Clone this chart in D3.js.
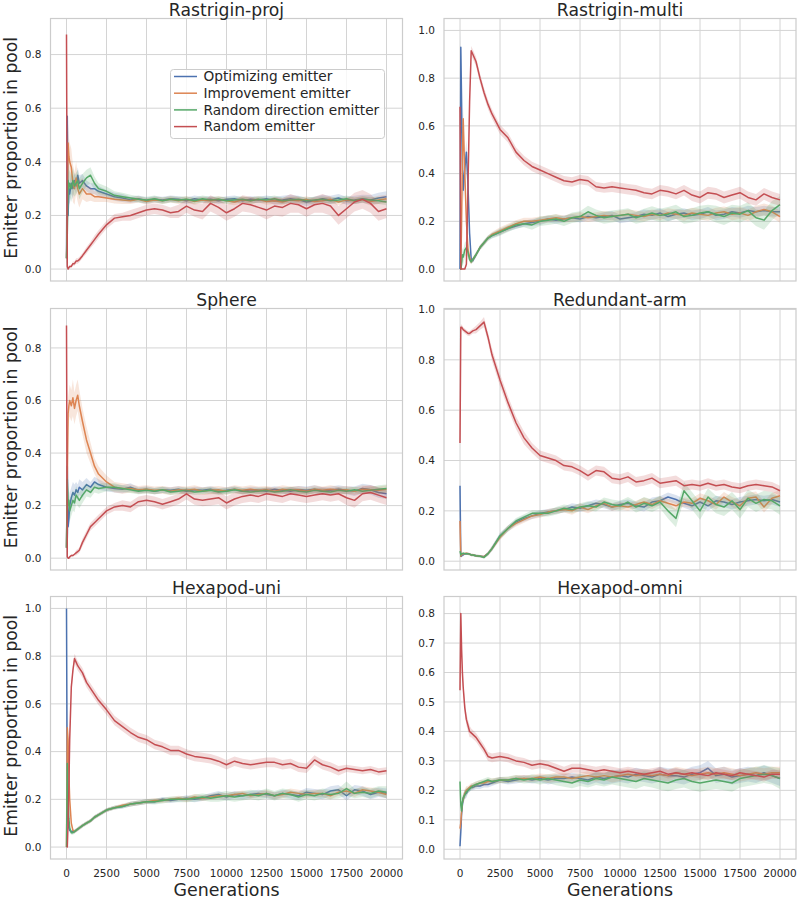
<!DOCTYPE html>
<html>
<head>
<meta charset="utf-8">
<script src="https://cdn.jsdelivr.net/npm/d3@7"></script>
<style>
  body { margin: 0; background: #fff; }
  text { font-family: "DejaVu Sans", sans-serif; fill: #262626; }
</style>
</head>
<body>
<div id="chart"></div>
<script>
// sampled generations (dense at the start, where the curves jump around)
const generations = [0, 50, 100, 150, 200, 300, 400, 500, 600, 700, 800, 1000, 1250, 1500, 1750, 2000,
  2500, 3000, 3500, 4000, 4500, 5000, 5500, 6000, 6500,
  7000, 7500, 8000, 8500, 9000, 9500, 10000, 10500, 11000,
  11500, 12000, 12500, 13000, 13500, 14000, 14500, 15000, 15500,
  16000, 16500, 17000, 17500, 18000, 18500, 19000, 19500, 20000];

const emitters = ["Optimizing emitter", "Improvement emitter", "Random direction emitter", "Random emitter"];
const colors = ["#4c72b0", "#dd8452", "#55a868", "#c44e52"];
const titles = ["Rastrigin-proj", "Rastrigin-multi", "Sphere", "Redundant-arm", "Hexapod-uni", "Hexapod-omni"];
const xTicks = [0, 2500, 5000, 7500, 10000, 12500, 15000, 17500, 20000];
const yTicks = [
  [0, 0.2, 0.4, 0.6, 0.8],
  [0, 0.2, 0.4, 0.6, 0.8, 1.0],
  [0, 0.2, 0.4, 0.6, 0.8],
  [0, 0.2, 0.4, 0.6, 0.8, 1.0],
  [0, 0.2, 0.4, 0.6, 0.8, 1.0],
  [0, 0.1, 0.2, 0.3, 0.4, 0.5, 0.6, 0.7, 0.8]
];

// mean proportion per emitter: [optimizing, improvement, random direction, random]
const rastriginProj = [
  [.04,.57,.2,.3,.28,.32,.3,.33,.31,.35,.32,.33,.31,.3,.3,.29,
   .28,.27,.265,.258,.262,.255,.26,.258,.262,
   .26,.255,.262,.258,.26,.255,.26,.262,.255,
   .26,.258,.262,.255,.258,.262,.258,.25,.255,
   .262,.258,.265,.255,.258,.262,.258,.265,.27],
  [.04,.2,.47,.42,.4,.38,.32,.3,.34,.3,.28,.3,.28,.28,.27,.27,
   .265,.26,.258,.255,.26,.252,.258,.255,.26,
   .255,.26,.252,.258,.255,.26,.255,.25,.258,
   .255,.26,.252,.255,.25,.258,.255,.26,.252,
   .255,.26,.25,.258,.255,.26,.252,.258,.262],
  [.04,.13,.33,.3,.32,.3,.33,.31,.32,.33,.3,.32,.34,.35,.32,.3,
   .29,.275,.27,.265,.26,.258,.262,.255,.26,
   .258,.26,.255,.262,.258,.26,.255,.258,.26,
   .255,.26,.258,.262,.255,.258,.26,.255,.258,
   .26,.255,.258,.262,.255,.26,.258,.255,.25],
  [.875,.01,0,.005,.01,.01,.02,.02,.03,.03,.035,.05,.07,.09,.11,.13,
   .165,.19,.195,.2,.21,.22,.225,.22,.21,
   .215,.235,.22,.215,.245,.23,.21,.225,.245,
   .24,.23,.22,.235,.23,.245,.24,.225,.24,
   .245,.235,.2,.225,.25,.26,.245,.215,.225]
];
const rastriginMulti = [
  [0,.93,.7,.45,.33,.42,.49,.35,.15,.04,.035,.06,.09,.11,.13,.14,
   .155,.17,.18,.19,.195,.2,.21,.205,.21,
   .215,.21,.22,.215,.22,.225,.21,.215,.22,
   .23,.225,.235,.22,.23,.235,.225,.23,.24,
   .225,.23,.24,.235,.245,.24,.245,.24,.24],
  [0,0,.2,.45,.63,.4,.2,.08,.05,.03,.04,.06,.09,.11,.13,.145,
   .16,.175,.19,.2,.2,.205,.21,.215,.21,
   .215,.22,.215,.22,.225,.22,.225,.23,.225,
   .22,.23,.225,.235,.23,.225,.235,.23,.225,
   .235,.24,.23,.235,.225,.24,.25,.24,.22],
  [0,0,.02,.06,.05,.08,.09,.07,.04,.03,.04,.06,.09,.11,.13,.14,
   .155,.17,.185,.19,.185,.2,.205,.21,.2,
   .215,.22,.24,.225,.215,.22,.225,.23,.215,
   .225,.235,.225,.23,.24,.22,.225,.235,.24,
   .23,.22,.235,.23,.245,.215,.205,.245,.27],
  [.68,0,0,0,0,0,.02,.35,.7,.915,.9,.87,.8,.74,.69,.65,
   .585,.55,.49,.455,.43,.415,.4,.385,.37,
   .365,.375,.37,.345,.34,.345,.34,.335,.33,
   .32,.315,.33,.325,.315,.33,.31,.3,.32,
   .315,.3,.31,.32,.3,.29,.315,.3,.29]
];
const sphere = [
  [.04,.35,.12,.15,.2,.23,.25,.24,.26,.25,.27,.26,.28,.27,.29,.28,
   .27,.265,.262,.27,.258,.262,.255,.26,.258,
   .262,.255,.26,.258,.262,.255,.258,.262,.255,
   .26,.258,.255,.262,.258,.255,.26,.258,.262,
   .255,.258,.262,.258,.255,.265,.26,.25,.245],
  [.04,.3,.55,.58,.6,.58,.61,.57,.6,.62,.58,.52,.45,.4,.35,.32,
   .29,.27,.265,.265,.26,.262,.258,.26,.255,
   .26,.258,.262,.255,.258,.26,.255,.262,.258,
   .262,.258,.26,.255,.262,.258,.26,.255,.262,
   .258,.262,.258,.26,.255,.262,.26,.258,.262],
  [.04,.3,.2,.22,.18,.2,.22,.21,.24,.23,.22,.24,.26,.25,.27,.265,
   .27,.27,.265,.26,.255,.258,.255,.26,.252,
   .255,.258,.252,.255,.258,.252,.255,.26,.255,
   .252,.255,.258,.252,.255,.26,.255,.252,.258,
   .255,.252,.258,.255,.26,.255,.258,.262,.265],
  [.885,.005,0,0,.005,.01,.01,.015,.02,.025,.03,.06,.09,.12,.135,.15,
   .18,.195,.2,.195,.215,.22,.215,.205,.215,
   .225,.245,.225,.22,.225,.23,.21,.225,.235,
   .24,.235,.245,.24,.235,.245,.24,.235,.24,
   .245,.24,.245,.23,.22,.245,.25,.24,.23]
];
const redundantArm = [
  [.3,.02,.02,.025,.025,.03,.03,.03,.028,.025,.025,.022,.02,.018,.03,.05,
   .1,.13,.155,.17,.18,.19,.195,.2,.205,
   .215,.21,.22,.23,.225,.215,.225,.23,.22,
   .215,.235,.24,.255,.245,.23,.22,.235,.22,
   .24,.235,.225,.235,.24,.245,.24,.245,.235],
  [.16,.02,.025,.028,.03,.03,.032,.03,.028,.025,.025,.022,.02,.018,.03,.05,
   .095,.13,.15,.165,.18,.185,.195,.2,.205,
   .2,.215,.205,.22,.23,.215,.22,.215,.225,
   .235,.225,.24,.23,.22,.235,.23,.25,.24,
   .225,.255,.235,.22,.25,.255,.215,.25,.26],
  [.04,.025,.03,.03,.032,.03,.03,.03,.028,.025,.025,.022,.02,.015,.03,.05,
   .1,.13,.16,.175,.19,.19,.19,.2,.21,
   .205,.215,.22,.215,.235,.225,.22,.235,.215,
   .23,.22,.235,.2,.17,.28,.24,.2,.255,
   .225,.215,.24,.205,.25,.23,.245,.24,.22],
  [.47,.93,.93,.925,.92,.915,.91,.905,.905,.91,.915,.92,.935,.95,.89,.82,
   .72,.63,.55,.49,.45,.42,.41,.4,.38,
   .375,.36,.34,.36,.355,.33,.325,.335,.315,
   .32,.33,.31,.315,.32,.3,.305,.3,.31,
   .3,.305,.295,.29,.3,.305,.3,.295,.28]
];
const hexapodUni = [
  [1.0,.15,.1,.08,.07,.065,.065,.065,.07,.075,.08,.09,.1,.11,.125,.135,
   .155,.165,.17,.18,.185,.19,.19,.2,.195,
   .2,.205,.2,.205,.215,.22,.21,.22,.215,
   .22,.225,.22,.215,.225,.22,.215,.23,.225,
   .22,.235,.24,.215,.24,.235,.22,.23,.225],
  [0,.5,.45,.3,.2,.1,.07,.065,.07,.075,.08,.09,.1,.11,.125,.135,
   .155,.165,.175,.18,.185,.19,.195,.195,.2,
   .205,.2,.21,.205,.21,.215,.215,.22,.225,
   .215,.22,.225,.215,.22,.23,.225,.22,.225,
   .225,.215,.23,.235,.225,.24,.235,.23,.22],
  [0,.35,.2,.12,.08,.06,.06,.065,.07,.075,.08,.09,.1,.11,.125,.135,
   .155,.165,.17,.18,.185,.19,.19,.195,.2,
   .2,.2,.205,.21,.205,.21,.215,.21,.215,
   .22,.215,.225,.215,.225,.22,.21,.22,.215,
   .225,.22,.225,.245,.225,.23,.225,.235,.23],
  [0,0,.1,.25,.45,.67,.74,.79,.775,.76,.75,.73,.69,.665,.64,.615,
   .575,.53,.505,.48,.46,.45,.43,.42,.405,
   .405,.39,.38,.375,.37,.36,.345,.36,.35,
   .345,.35,.355,.355,.345,.35,.335,.33,.365,
   .345,.335,.32,.33,.325,.32,.325,.315,.32]
];
const hexapodOmni = [
  [.01,.06,.12,.15,.17,.185,.19,.2,.205,.21,.21,.215,.215,.22,.22,.225,
   .235,.23,.235,.24,.235,.24,.235,.24,.24,
   .245,.24,.235,.245,.24,.245,.25,.245,.255,
   .25,.245,.255,.25,.25,.245,.255,.26,.275,
   .25,.255,.245,.25,.255,.25,.26,.25,.24],
  [.07,.09,.13,.16,.17,.19,.2,.205,.21,.215,.215,.22,.225,.225,.23,.23,
   .235,.235,.24,.24,.24,.245,.24,.245,.245,
   .24,.245,.25,.245,.25,.245,.25,.255,.25,
   .255,.25,.255,.25,.26,.255,.25,.255,.26,
   .255,.26,.255,.25,.255,.26,.255,.26,.26],
  [.23,.15,.13,.16,.175,.185,.195,.2,.205,.21,.215,.22,.225,.23,.235,.23,
   .235,.235,.24,.235,.24,.235,.24,.235,.23,
   .225,.235,.23,.24,.235,.245,.24,.235,.23,
   .24,.235,.23,.225,.235,.24,.23,.225,.23,
   .235,.23,.225,.24,.245,.25,.255,.25,.24],
  [.54,.8,.68,.6,.55,.48,.44,.42,.4,.395,.39,.38,.36,.34,.315,.31,
   .315,.31,.3,.295,.285,.29,.285,.275,.265,
   .275,.275,.27,.265,.27,.265,.26,.265,.26,
   .255,.26,.265,.255,.26,.255,.26,.255,.25,
   .26,.255,.25,.26,.255,.25,.245,.255,.255]
];

// half width of the shaded band around each mean
const rastriginProjBand = [
  [.02,.06,.06,.05,.04,.04,.04,.03,.03,.03,.03,.025,.02,.02,.02,.02,
   .015,.015,.015,.012,.012,.012,.012,.012,.012,
   .012,.012,.012,.012,.012,.012,.012,.012,.012,
   .012,.012,.012,.015,.015,.015,.015,.015,.015,
   .015,.015,.015,.015,.015,.015,.018,.02,.02],
  [.02,.08,.07,.07,.07,.07,.07,.06,.06,.05,.05,.04,.03,.025,.02,.02,
   .015,.015,.015,.012,.012,.012,.012,.012,.012,
   .012,.012,.012,.012,.012,.012,.012,.012,.012,
   .012,.012,.012,.012,.012,.012,.012,.012,.012,
   .012,.012,.012,.012,.012,.012,.015,.015,.015],
  [.02,.1,.06,.06,.05,.05,.05,.04,.04,.04,.04,.035,.03,.03,.025,.02,
   .018,.015,.015,.012,.012,.012,.012,.012,.012,
   .012,.012,.012,.012,.012,.012,.012,.012,.012,
   .012,.012,.012,.012,.012,.012,.012,.012,.012,
   .012,.012,.012,.012,.012,.012,.012,.012,.012],
  [.02,.01,.005,.005,.005,.005,.008,.008,.01,.01,.01,.01,.012,.012,.015,.015,
   .015,.015,.015,.02,.02,.02,.02,.02,.02,
   .025,.025,.025,.03,.03,.03,.03,.03,.03,
   .03,.03,.035,.035,.035,.035,.03,.03,.03,
   .035,.035,.035,.035,.035,.035,.035,.035,.035]
];
const rastriginMultiBand = [
  [0,.07,.06,.05,.05,.05,.05,.04,.03,.01,.01,.01,.01,.01,.01,.01,
   .012,.012,.012,.012,.015,.015,.015,.015,.015,
   .015,.015,.015,.015,.018,.018,.018,.018,.018,
   .02,.02,.02,.02,.02,.02,.02,.02,.02,
   .02,.02,.02,.02,.02,.02,.02,.02,.02],
  [0,0,.05,.05,.05,.05,.04,.03,.02,.01,.01,.01,.01,.01,.01,.01,
   .015,.015,.015,.015,.015,.015,.015,.015,.015,
   .018,.018,.018,.018,.018,.018,.02,.02,.02,
   .02,.02,.02,.02,.02,.022,.022,.022,.022,
   .022,.022,.025,.025,.025,.025,.025,.025,.025],
  [0,0,.02,.03,.03,.03,.03,.02,.01,.01,.01,.01,.01,.012,.012,.012,
   .015,.015,.015,.015,.02,.02,.02,.02,.02,
   .022,.022,.025,.025,.025,.025,.025,.025,.025,
   .028,.028,.028,.03,.03,.03,.03,.03,.03,
   .035,.035,.035,.035,.035,.035,.04,.04,.035],
  [.02,0,0,0,0,0,.01,.02,.02,.02,.02,.02,.02,.02,.02,.02,
   .02,.02,.02,.02,.02,.02,.02,.02,.02,
   .02,.02,.02,.02,.02,.022,.022,.022,.022,
   .022,.022,.022,.022,.022,.022,.025,.025,.025,
   .025,.025,.025,.025,.025,.025,.025,.025,.025]
];
const sphereBand = [
  [.02,.05,.05,.05,.05,.04,.04,.04,.03,.03,.03,.03,.025,.02,.02,.02,
   .015,.015,.015,.015,.012,.012,.012,.012,.012,
   .012,.012,.012,.012,.012,.012,.012,.012,.012,
   .012,.012,.012,.012,.012,.015,.015,.015,.015,
   .015,.015,.015,.015,.018,.018,.018,.02,.02],
  [.02,.05,.06,.06,.06,.06,.07,.06,.06,.06,.06,.05,.05,.04,.03,.03,
   .025,.02,.02,.015,.015,.015,.015,.015,.015,
   .015,.015,.015,.015,.015,.015,.015,.015,.015,
   .015,.015,.015,.015,.015,.015,.015,.015,.015,
   .015,.015,.015,.015,.015,.015,.015,.015,.015],
  [.02,.05,.05,.05,.04,.04,.04,.035,.035,.03,.03,.03,.025,.02,.02,.02,
   .015,.015,.012,.012,.012,.012,.012,.012,.012,
   .012,.012,.012,.012,.012,.012,.012,.012,.012,
   .012,.012,.012,.012,.012,.012,.012,.012,.012,
   .012,.012,.012,.012,.012,.012,.012,.015,.015],
  [.02,.005,.005,.005,.005,.005,.005,.005,.01,.01,.01,.015,.015,.015,.015,.015,
   .015,.015,.02,.02,.02,.02,.02,.02,.02,
   .02,.022,.022,.022,.025,.025,.025,.025,.025,
   .025,.025,.025,.025,.025,.025,.025,.025,.025,
   .025,.025,.025,.028,.028,.028,.028,.028,.028]
];
const redundantArmBand = [
  [.07,.005,.005,.005,.005,.005,.005,.005,.005,.005,.005,.005,.005,.005,.008,.01,
   .012,.012,.012,.012,.012,.012,.012,.012,.012,
   .015,.015,.015,.015,.015,.015,.015,.015,.015,
   .018,.018,.018,.018,.018,.018,.02,.02,.02,
   .02,.02,.02,.02,.02,.02,.02,.02,.02],
  [.05,.005,.005,.005,.005,.005,.005,.005,.005,.005,.005,.005,.005,.005,.008,.01,
   .012,.012,.012,.012,.012,.012,.012,.012,.012,
   .015,.015,.015,.015,.015,.015,.015,.015,.015,
   .018,.018,.018,.018,.018,.018,.02,.02,.02,
   .02,.02,.02,.022,.022,.022,.022,.022,.022],
  [.02,.005,.005,.005,.005,.005,.005,.005,.005,.005,.005,.005,.005,.005,.008,.01,
   .012,.012,.012,.012,.012,.012,.012,.015,.015,
   .015,.015,.018,.018,.018,.02,.02,.02,.022,
   .025,.025,.025,.03,.035,.035,.035,.035,.035,
   .035,.035,.035,.035,.035,.035,.035,.035,.035],
  [.03,.01,.01,.01,.01,.01,.01,.01,.01,.01,.01,.015,.015,.02,.02,.025,
   .025,.025,.025,.025,.02,.02,.02,.02,.02,
   .02,.02,.02,.02,.02,.02,.02,.02,.02,
   .02,.02,.02,.02,.02,.02,.02,.02,.02,
   .02,.02,.02,.02,.02,.02,.02,.02,.02]
];
const hexapodUniBand = [
  [0,.02,.02,.01,.01,.008,.008,.008,.008,.008,.008,.008,.008,.008,.008,.008,
   .008,.008,.008,.01,.01,.01,.01,.01,.01,
   .01,.012,.012,.012,.012,.015,.015,.015,.015,
   .015,.015,.015,.015,.015,.015,.018,.018,.018,
   .02,.02,.02,.02,.02,.02,.02,.02,.02],
  [0,.02,.02,.02,.02,.01,.008,.008,.008,.008,.008,.008,.008,.008,.008,.008,
   .008,.008,.008,.01,.01,.01,.01,.01,.01,
   .01,.012,.012,.012,.012,.012,.012,.012,.012,
   .012,.012,.015,.015,.015,.015,.015,.015,.015,
   .015,.015,.015,.015,.015,.015,.015,.015,.015],
  [0,.02,.02,.02,.01,.008,.008,.008,.008,.008,.008,.008,.008,.008,.008,.008,
   .008,.008,.008,.01,.01,.01,.012,.012,.012,
   .012,.012,.015,.015,.015,.02,.02,.02,.02,
   .02,.02,.02,.02,.02,.02,.02,.02,.02,
   .02,.02,.02,.03,.02,.02,.02,.02,.025],
  [0,0,.01,.01,.02,.02,.02,.02,.02,.02,.02,.02,.02,.02,.02,.02,
   .02,.02,.02,.02,.02,.02,.02,.02,.02,
   .02,.02,.02,.02,.02,.02,.02,.02,.02,
   .02,.02,.02,.02,.02,.02,.02,.02,.02,
   .02,.02,.02,.015,.015,.015,.015,.015,.015]
];
const hexapodOmniBand = [
  [0,.02,.02,.02,.015,.015,.015,.01,.01,.01,.01,.01,.01,.01,.01,.01,
   .01,.01,.012,.012,.012,.012,.015,.015,.015,
   .015,.015,.018,.018,.02,.022,.022,.022,.022,
   .022,.022,.025,.025,.025,.025,.025,.025,.025,
   .025,.025,.025,.025,.025,.025,.025,.025,.025],
  [.02,.02,.02,.02,.015,.015,.015,.01,.01,.01,.01,.01,.01,.01,.01,.01,
   .01,.01,.012,.012,.012,.012,.015,.015,.015,
   .015,.015,.015,.015,.015,.018,.018,.018,.018,
   .018,.018,.02,.02,.02,.02,.02,.02,.02,
   .02,.02,.02,.02,.02,.02,.02,.02,.02],
  [.03,.02,.02,.02,.015,.015,.015,.01,.01,.01,.01,.01,.01,.01,.01,.01,
   .01,.012,.012,.012,.015,.015,.015,.018,.018,
   .018,.02,.02,.022,.022,.025,.025,.025,.025,
   .025,.025,.028,.028,.03,.03,.03,.03,.03,
   .03,.03,.03,.03,.03,.03,.03,.03,.035],
  [.03,.02,.02,.02,.02,.02,.02,.02,.02,.015,.015,.015,.015,.015,.015,.015,
   .015,.015,.015,.015,.015,.015,.015,.015,.015,
   .015,.015,.015,.015,.015,.015,.015,.015,.015,
   .015,.015,.015,.015,.015,.015,.015,.015,.015,
   .015,.015,.015,.015,.015,.015,.015,.015,.015]
];

const panelMeans = [rastriginProj, rastriginMulti, sphere, redundantArm, hexapodUni, hexapodOmni];
const panelBands = [rastriginProjBand, rastriginMultiBand, sphereBand, redundantArmBand, hexapodUniBand, hexapodOmniBand];

// axes limits (matplotlib style, with margins)
const xLimits = [-1000, 21000];
const yLimits = [[-0.0445, 0.9345], [-0.05, 1.05], [-0.045, 0.95], [-0.035, 1.004], [-0.05, 1.05], [-0.033, 0.858]];

// frame geometry
const colX = [[50.5, 402.5], [444, 796]];
const rowY = [[18.5, 281], [308.5, 570], [596.5, 859]];
const gridColor = "#d4d4d4";

var svg = d3.select('#chart').append('svg')
  .attr('width', 797)
  .attr('height', 900);

titles.forEach(function(title, p) {
  let col = p % 2, row = Math.floor(p / 2);
  let x = d3.scaleLinear().domain(xLimits).range(colX[col]);
  let y = d3.scaleLinear().domain(yLimits[p]).range([rowY[row][1], rowY[row][0]]);
  let g = svg.append('g');

  // grid
  g.selectAll('.vgrid').data(xTicks).enter().append('line')
    .attr('x1', d => x(d)).attr('x2', d => x(d))
    .attr('y1', rowY[row][0]).attr('y2', rowY[row][1])
    .attr('stroke', gridColor).attr('stroke-width', 1);
  g.selectAll('.hgrid').data(yTicks[p]).enter().append('line')
    .attr('x1', colX[col][0]).attr('x2', colX[col][1])
    .attr('y1', d => y(d)).attr('y2', d => y(d))
    .attr('stroke', gridColor).attr('stroke-width', 1);

  // bands and lines
  let means = panelMeans[p], bands = panelBands[p];
  means.forEach(function(series, s) {
    let pts = series.map((v, i) => ({ g: generations[i], v: v, b: bands[s][i] }));
    let area = d3.area()
      .x(d => x(d.g))
      .y0(d => y(Math.max(0, d.v - d.b)))
      .y1(d => y(d.v + d.b));
    let line = d3.line().x(d => x(d.g)).y(d => y(d.v));
    g.append('path').attr('d', area(pts))
      .attr('fill', colors[s]).attr('fill-opacity', 0.2).attr('stroke', 'none');
    g.append('path').attr('d', line(pts))
      .attr('fill', 'none').attr('stroke', colors[s])
      .attr('stroke-width', 1.5).attr('stroke-linejoin', 'round');
  });

  // frame
  g.append('rect')
    .attr('x', colX[col][0]).attr('y', rowY[row][0])
    .attr('width', colX[col][1] - colX[col][0])
    .attr('height', rowY[row][1] - rowY[row][0])
    .attr('fill', 'none').attr('stroke', '#cccccc').attr('stroke-width', 1.2);

  // y tick labels
  g.selectAll('.ylab').data(yTicks[p]).enter().append('text')
    .attr('x', colX[col][0] - 9)
    .attr('y', d => y(d) + 3.8)
    .attr('text-anchor', 'end')
    .attr('font-size', '10.5px')
    .text(d => d3.format('.1f')(d));

  // x tick labels on bottom row only
  if (row === 2) {
    g.selectAll('.xlab').data(xTicks).enter().append('text')
      .attr('x', d => x(d))
      .attr('y', rowY[row][1] + 18)
      .attr('text-anchor', 'middle')
      .attr('font-size', '10.5px')
      .text(d => d);
    g.append('text')
      .attr('x', (colX[col][0] + colX[col][1]) / 2)
      .attr('y', 896)
      .attr('text-anchor', 'middle')
      .attr('font-size', '17.4px')
      .text('Generations');
  }

  // y label on left column
  if (col === 0) {
    let cy = (rowY[row][0] + rowY[row][1]) / 2;
    g.append('text')
      .attr('transform', `translate(16.5, ${cy - 2}) rotate(-90)`)
      .attr('text-anchor', 'middle')
      .attr('font-size', '17.2px')
      .text('Emitter proportion in pool');
  }

  // title
  g.append('text')
    .attr('x', (colX[col][0] + colX[col][1]) / 2)
    .attr('y', rowY[row][0] - 3)
    .attr('text-anchor', 'middle')
    .attr('font-size', '17.2px')
    .text(title);
});

// legend in the first panel
var legend = svg.append('g');
legend.append('rect')
  .attr('x', 170.5).attr('y', 69.5)
  .attr('width', 214).attr('height', 69)
  .attr('rx', 3)
  .attr('fill', 'white').attr('fill-opacity', 0.8)
  .attr('stroke', '#cccccc').attr('stroke-width', 1);
emitters.forEach(function(name, i) {
  let cy = 76.5 + i * 16.7;
  legend.append('line')
    .attr('x1', 174).attr('x2', 197)
    .attr('y1', cy).attr('y2', cy)
    .attr('stroke', colors[i]).attr('stroke-width', 1.5);
  legend.append('text')
    .attr('x', 203.5).attr('y', cy + 4.8)
    .attr('font-size', '13.7px')
    .text(name);
});
</script>
</body>
</html>
